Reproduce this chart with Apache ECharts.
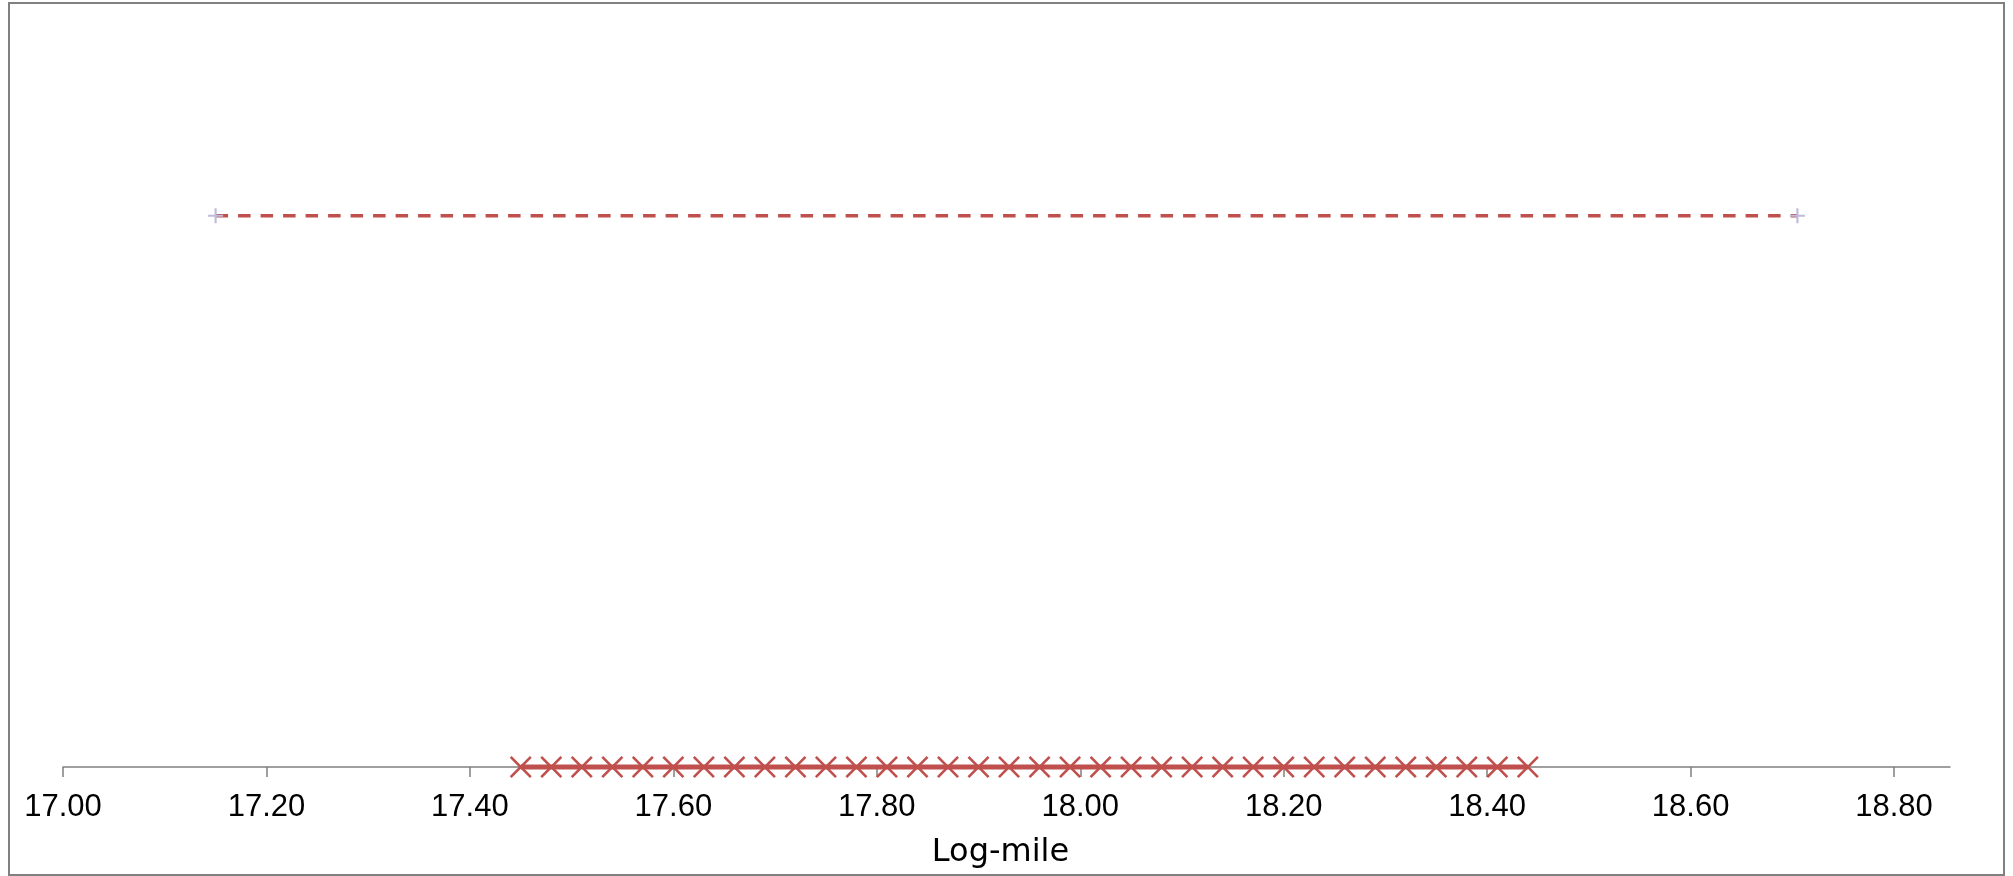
<!DOCTYPE html>
<html>
<head>
<meta charset="utf-8">
<script src="https://cdn.jsdelivr.net/npm/echarts@6/dist/echarts.min.js"></script>
<style>html,body{margin:0;padding:0;background:#fff}#c{width:2013px;height:876px}</style>
</head>
<body>
<div id="c"></div>
<script>
// Data
const tickValues = [17.0, 17.2, 17.4, 17.6, 17.8, 18.0, 18.2, 18.4, 18.6, 18.8];
const upperX = [17.15, 18.705];
const upperY = [1, 1];
const lowerX = [17.45, 17.48, 17.51, 17.54, 17.57, 17.60, 17.63, 17.66, 17.69, 17.72,
                17.75, 17.78, 17.81, 17.84, 17.87, 17.90, 17.93, 17.96, 17.99, 18.02,
                18.05, 18.08, 18.11, 18.14, 18.17, 18.20, 18.23, 18.26, 18.29, 18.32,
                18.35, 18.38, 18.41, 18.44];
const lowerY = lowerX.map(() => 0);
const xName = 'Log-mile';

const plusPath = 'path://M6,0H8V6H14V8H8V14H6V8H0V6H6Z';
const d = 1.7;
const xPath = 'path://M0,' + d + 'L' + d + ',0L10,' + (10 - d) + 'L' + (20 - d) + ',0L20,' + d +
  'L' + (10 + d) + ',10L20,' + (20 - d) + 'L' + (20 - d) + ',20L10,' + (10 + d) +
  'L' + d + ',20L0,' + (20 - d) + 'L' + (10 - d) + ',10Z';

const chart = echarts.init(document.getElementById('c'));
chart.setOption({
  animation: false,
  backgroundColor: '#ffffff',
  grid: { left: 63, right: 63, top: 78, bottom: 109, containLabel: false },
  xAxis: {
    type: 'value', min: 17.0, max: 18.855,
    name: xName, nameLocation: 'middle', nameGap: 70,
    nameTextStyle: { fontFamily: 'DejaVu Sans', fontSize: 32, color: '#000', padding: [0, 12, 0, 0] },
    axisLine: { show: true, lineStyle: { color: '#808080', width: 1.5 } },
    axisTick: { show: true, inside: false, length: 10, customValues: tickValues, lineStyle: { color: '#808080', width: 1.5 } },
    axisLabel: { customValues: tickValues, fontFamily: '"Liberation Sans", Arial, sans-serif', fontSize: 31, color: '#000', margin: 25,
      formatter: v => Number(v).toFixed(2) },
    splitLine: { show: false }
  },
  yAxis: { type: 'value', min: 0, max: 1.25, show: false },
  graphic: [{
    type: 'rect', shape: { x: 9, y: 3, width: 1995, height: 872 },
    style: { fill: 'none', stroke: '#808080', lineWidth: 2 }, silent: true, z: 100
  }],
  series: [
    {
      type: 'line', data: upperX.map((x, i) => [x, upperY[i]]),
      lineStyle: { color: '#C0504D', width: 3.4, type: [12.5, 10] },
      symbol: plusPath, symbolSize: 15, showAllSymbol: true,
      itemStyle: { color: '#BFBBD9' }, clip: false, z: 3
    },
    {
      type: 'line', data: lowerX.map((x, i) => [x, lowerY[i]]),
      lineStyle: { color: '#C0504D', width: 5 },
      symbol: xPath, symbolSize: 22, showAllSymbol: true,
      itemStyle: { color: '#C0504D' }, clip: false, z: 3
    }
  ]
});
</script>
</body>
</html>
